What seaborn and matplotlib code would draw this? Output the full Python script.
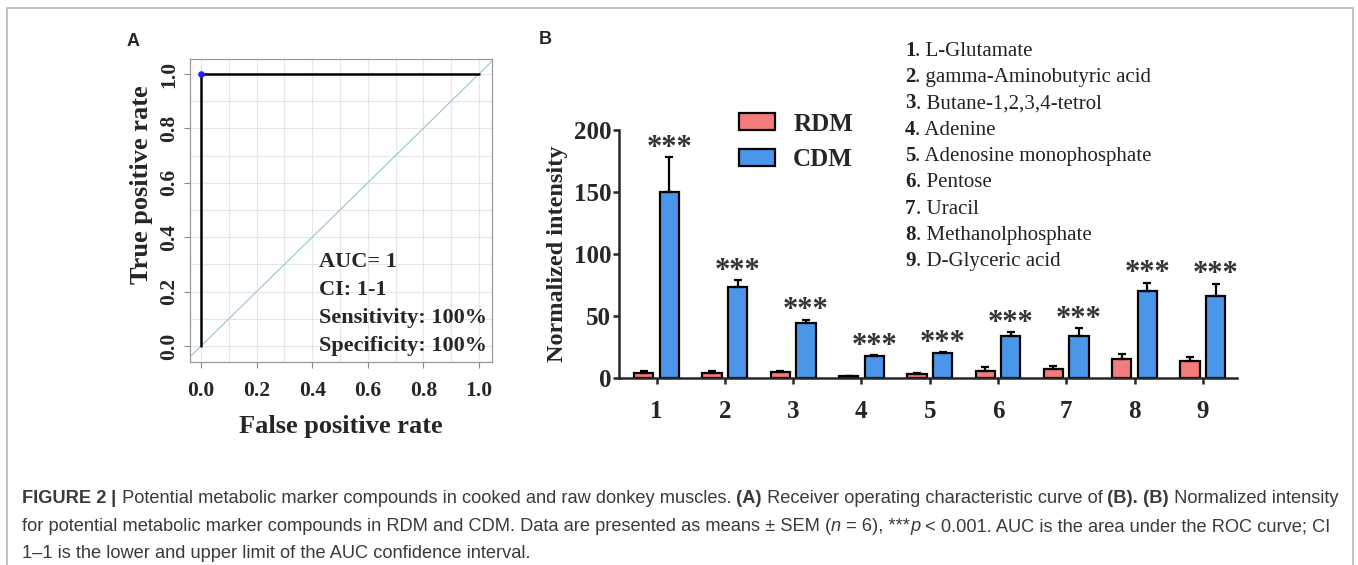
import numpy as np
import pandas as pd
import seaborn as sns
import matplotlib.pyplot as plt
from matplotlib.lines import Line2D

# panel A: ROC curve
fpr = [0.0, 0.0, 1.0]
tpr = [0.0, 1.0, 1.0]
roc_text = ["AUC= 1", "CI: 1-1", "Sensitivity: 100%", "Specificity: 100%"]

# panel B: normalized intensity, mean + SEM
compounds = ["1", "2", "3", "4", "5", "6", "7", "8", "9"]
names = ["L-Glutamate", "gamma-Aminobutyric acid", "Butane-1,2,3,4-tetrol", "Adenine",
         "Adenosine monophosphate", "Pentose", "Uracil", "Methanolphosphate", "D-Glyceric acid"]
groups = ["RDM", "CDM"]
rdm_mean = [4, 4, 5, 1.5, 3, 6, 7, 15, 14]
rdm_sem = [2, 1.5, 1, 0.5, 0.8, 3, 3, 4, 3]
cdm_mean = [150, 73, 44, 17.5, 20, 34, 34, 70, 66]
cdm_sem = [28, 6, 3, 1, 1, 3, 6, 7, 10]

SERIF = ["Liberation Serif", "DejaVu Serif"]
CAP = ["Liberation Sans", "DejaVu Sans"]

sns.set_style("ticks")
plt.rcParams["font.family"] = SERIF

fig = plt.figure(figsize=(13.58, 5.65), dpi=100)

# ---------------- A ----------------
axa = fig.add_axes([0.1399, 0.3593, 0.2224, 0.5363])
axa.set_xlim(-0.04, 1.047)
axa.set_ylim(-0.059, 1.055)
axa.set_xticks(np.arange(0, 1.01, 0.1), minor=True)
axa.set_yticks(np.arange(0, 1.01, 0.1), minor=True)
axa.set_xticks([0, 0.2, 0.4, 0.6, 0.8, 1.0])
axa.set_yticks([0, 0.2, 0.4, 0.6, 0.8, 1.0])
axa.grid(True, which="both", color="#e6e6e6", lw=0.8)
axa.tick_params(which="minor", length=0)
axa.tick_params(which="major", length=4, color="#888888", width=0.8)
axa.tick_params(axis="x", pad=10)
axa.set_xticklabels(["0.0", "0.2", "0.4", "0.6", "0.8", "1.0"], fontsize=15.5, fontweight="bold")
axa.set_yticklabels(["0.0", "0.2", "0.4", "0.6", "0.8", "1.0"], fontsize=15.5, fontweight="bold",
                    rotation=90, va="center")
for s in axa.spines.values():
    s.set_color("#999999")
    s.set_linewidth(0.9)
axa.axline((0, 0), (1, 1), color="#9ec9e0", lw=0.9, zorder=2)
sns.lineplot(x=fpr, y=tpr, estimator=None, sort=False, color="black", lw=1.8, ax=axa, zorder=3)
axa.scatter([fpr[1]], [tpr[1]], s=14, color="#1f1fff", zorder=4)
axa.set_xlabel("False positive rate", fontsize=19, fontweight="bold", labelpad=10)
axa.set_ylabel("True positive rate", fontsize=19, fontweight="bold")
axa.yaxis.set_label_coords(-0.122, 0.584)
for i, t in enumerate(roc_text):
    axa.text(0.424, 0.31 - i * 0.103, t, fontsize=16, fontweight="bold", va="center")
fig.text(133 / 1358, 1 - 42 / 565, "A", fontsize=13, fontweight="bold",
         family=CAP, ha="center", va="center")

# ---------------- B ----------------
axb = fig.add_axes([619 / 1358, 1 - 378 / 565, 618 / 1358, 248 / 565])
df = pd.DataFrame({
    "compound": compounds * 2,
    "group": ["RDM"] * 9 + ["CDM"] * 9,
    "value": rdm_mean + cdm_mean,
})
sns.barplot(data=df, x="compound", y="value", hue="group", hue_order=groups,
            palette=["#F47C7C", "#4A97EA"], saturation=1, width=0.75, gap=0.25,
            errorbar=None, edgecolor="black", linewidth=1.6, ax=axb)
for cont, m, e in zip(axb.containers, [rdm_mean, cdm_mean], [rdm_sem, cdm_sem]):
    xs = [b.get_x() + b.get_width() / 2 for b in cont]
    axb.errorbar(xs, m, yerr=[np.zeros(len(m)), e], fmt="none", ecolor="black",
                 elinewidth=1.6, capsize=3.0, capthick=1.6, zorder=1)
cdm_bars = axb.containers[1]
for b, m, e in zip(cdm_bars, cdm_mean, cdm_sem):
    axb.annotate("***", xy=(b.get_x() + b.get_width() / 2, m + e), xytext=(0, -4),
                 textcoords="offset points", ha="center", va="bottom", fontsize=22,
                 fontweight="bold", color="#333333")
axb.set_xlim(-0.55, 8.5)
axb.set_ylim(0, 200)
axb.set_yticks([0, 50, 100, 150, 200])
sns.despine(ax=axb)
axb.spines["left"].set_linewidth(1.8)
axb.spines["bottom"].set_linewidth(1.8)
axb.tick_params(axis="both", length=4.5, width=1.8, labelsize=18)
axb.tick_params(axis="y", pad=1)
axb.tick_params(axis="x", pad=11)
for lab in axb.get_xticklabels() + axb.get_yticklabels():
    lab.set_fontweight("bold")
axb.set_xlabel("")
axb.set_ylabel("Normalized intensity", fontsize=17.5, fontweight="bold", labelpad=4)
h, l = axb.get_legend_handles_labels()
axb.legend(h, l, loc="upper left", bbox_to_anchor=(120 / 618, 1.07), frameon=False,
           prop={"family": SERIF, "weight": "bold", "size": 18},
           handlelength=1.45, handleheight=0.68, handletextpad=0.72,
           labelspacing=0.5, borderpad=0, borderaxespad=0)
fig.text(545 / 1358, 1 - 40 / 565, "B", fontsize=13, fontweight="bold",
         family=CAP, ha="center", va="center")

# compound list
for i, (c, n) in enumerate(zip(compounds, names)):
    y = 1 - (51 + i * 26.25) / 565
    t0 = fig.text(905 / 1358, y, c, fontsize=15, fontweight="bold", va="center", color="#222222")
    axb.annotate(". " + n, xy=(1, 0), xycoords=t0, ha="left", va="bottom",
                 fontsize=15, color="#222222", annotation_clip=False)


# ---------------- caption ----------------
def chain(pieces, x, y, size):
    prev = None
    for s, kw in pieces:
        if prev is None:
            prev = fig.text(x, y, s, fontsize=size, family=CAP, color="#3a3a3a",
                            va="bottom", **kw)
        else:
            prev = axb.annotate(s, xy=(1, 0), xycoords=prev, ha="left", va="bottom",
                                fontsize=size, family=CAP, color="#3a3a3a",
                                annotation_clip=False, **kw)


B = {"fontweight": "bold"}
R = {}
I = {"style": "italic"}
cap_size = 13.15
chain([("FIGURE 2", B), (" |", B),
       (" Potential metabolic marker compounds in cooked and raw donkey muscles.", R),
       (" (A)", B), (" Receiver operating characteristic curve of", R), (" (B).", B),
       (" (B)", B), (" Normalized intensity", R)], 22 / 1358, 1 - 507 / 565, cap_size)
chain([("for potential metabolic marker compounds in RDM and CDM. Data are presented as means \u00b1 SEM (", R),
       ("n", I), (" = 6), ***", R), ("p", I),
       (" < 0.001. AUC is the area under the ROC curve; CI", R)], 22 / 1358, 1 - 535 / 565, cap_size)
chain([("1\u20131 is the lower and upper limit of the AUC confidence interval.", R)],
      22 / 1358, 1 - 562 / 565, cap_size)

# frame
fc = "#b8b8b8"
fig.add_artist(Line2D([7 / 1358, 7 / 1358], [0, 1 - 8 / 565], color=fc, lw=1.2))
fig.add_artist(Line2D([7 / 1358, 1353 / 1358], [1 - 8 / 565, 1 - 8 / 565], color=fc, lw=1.2))
fig.add_artist(Line2D([1353 / 1358, 1353 / 1358], [0, 1 - 8 / 565], color=fc, lw=1.2))

fig.savefig("out.png", dpi=100)
